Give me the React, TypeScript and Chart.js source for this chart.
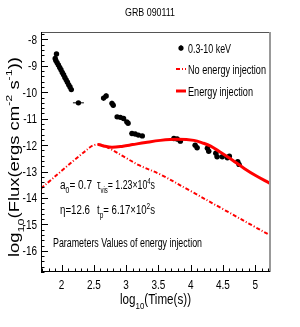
import React, { useEffect, useRef } from "react";
import { Chart, registerables } from "chart.js";
Chart.register(...registerables);

const title = "GRB 090111";
const xMin = 1.68, xMax = 5.23, yMin = -16.8, yMax = -7.72;
const xTickLabels = ["2", "2.5", "3", "3.5", "4", "4.5", "5"];
const yTickLabels = ["-8", "-9", "-10", "-11", "-12", "-13", "-14", "-15", "-16"];

// 0.3-10 keV data
const obsX = [1.92, 1.90, 1.91, 1.93, 1.95, 1.97, 1.99, 2.01, 2.03, 2.05, 2.07, 2.09, 2.11, 2.13, 2.15,
  2.26,
  2.65, 2.69, 2.78, 2.80, 2.86, 2.91, 2.96, 3.01, 3.03,
  3.09, 3.14, 3.19, 3.25,
  3.74, 3.79, 3.84, 4.07, 4.10, 4.26, 4.28, 4.39, 4.41, 4.49, 4.57, 4.60, 4.73, 4.75];
const obsY = [-8.55, -8.72, -8.8, -8.88, -8.97, -9.06, -9.15, -9.25, -9.34, -9.44, -9.53, -9.62, -9.72, -9.8, -9.9,
  -10.4,
  -10.22, -10.14, -10.42, -10.49, -10.93, -10.95, -10.99, -11.12, -11.17,
  -11.56, -11.58, -11.62, -11.65,
  -11.75, -11.77, -11.85, -12.0, -12.1, -12.12, -12.23, -12.31, -12.44, -12.44, -12.48, -12.42, -12.63, -12.73];
const obsXErr = [0.01, 0.01, 0.01, 0.01, 0.01, 0.01, 0.01, 0.01, 0.01, 0.01, 0.01, 0.01, 0.01, 0.01, 0.01,
  0.085,
  0.02, 0.02, 0.02, 0.02, 0.03, 0.03, 0.03, 0.03, 0.03,
  0.04, 0.04, 0.04, 0.04,
  0.04, 0.04, 0.04, 0.04, 0.04, 0.04, 0.04, 0.04, 0.04, 0.04, 0.04, 0.04, 0.04, 0.04];
const obsYErr = [0.06, 0.06, 0.06, 0.06, 0.06, 0.06, 0.06, 0.06, 0.06, 0.06, 0.06, 0.06, 0.06, 0.06, 0.06,
  0.05,
  0.1, 0.1, 0.1, 0.1, 0.06, 0.06, 0.06, 0.06, 0.06,
  0.06, 0.06, 0.06, 0.06,
  0.08, 0.08, 0.08, 0.08, 0.08, 0.08, 0.08, 0.08, 0.08, 0.08, 0.08, 0.08, 0.08, 0.08];

// No energy injection model
const noInjX = [1.68, 1.8, 2.0, 2.2, 2.3, 2.38, 2.44, 2.5, 2.56, 2.62, 2.7, 2.8, 3.0, 3.2, 3.53, 4.0, 4.5, 5.0, 5.23];
const noInjY = [-13.64, -13.39, -12.97, -12.56, -12.36, -12.2, -12.08, -12.0, -11.97, -11.99, -12.07, -12.2, -12.49, -12.76, -13.11, -13.74, -14.42, -15.1, -15.41];

// Energy injection model
const injX = [2.56, 2.65, 2.78, 2.95, 3.1, 3.3, 3.53, 3.8, 4.05, 4.2, 4.31, 4.45, 4.57, 4.7, 4.83, 5.0, 5.23];
const injY = [-11.97, -12.03, -12.08, -12.04, -11.98, -11.9, -11.82, -11.78, -11.82, -11.93, -12.04, -12.25, -12.44, -12.66, -12.88, -13.14, -13.45];

const legendLabels = ["0.3-10 keV", "No energy injection", "Energy injection"];
const paramTitle = "Parameters Values of energy injection";

const FONT = "'Liberation Sans', Arial, sans-serif";
const SX = 0.8;

type Seg = { t: string; sub?: boolean; sup?: boolean };

function segWidth(ctx: CanvasRenderingContext2D, segs: Seg[], size: number) {
  let w = 0;
  for (const s of segs) {
    const fs = s.sub || s.sup ? size * 0.68 : size;
    ctx.font = `${fs}px ${FONT}`;
    w += ctx.measureText(s.t).width;
  }
  return w;
}

function drawRich(ctx: CanvasRenderingContext2D, segs: Seg[], x: number, y: number, size: number, sx: number) {
  ctx.save();
  ctx.translate(x, y);
  ctx.scale(sx, 1);
  ctx.textBaseline = "alphabetic";
  ctx.textAlign = "left";
  let cx = 0;
  for (const s of segs) {
    const fs = s.sub || s.sup ? size * 0.68 : size;
    ctx.font = `${fs}px ${FONT}`;
    const dy = s.sub ? size * 0.35 : s.sup ? -size * 0.45 : 0;
    ctx.fillText(s.t, cx, dy);
    cx += ctx.measureText(s.t).width;
  }
  ctx.restore();
}

function drawRichFit(ctx: CanvasRenderingContext2D, segs: Seg[], x: number, y: number, size: number, width: number) {
  const w = segWidth(ctx, segs, size);
  drawRich(ctx, segs, x, y, size, width / w);
}

const overlay = {
  id: "overlay",
  beforeDatasetsDraw(chart: any) {
    const ctx: CanvasRenderingContext2D = chart.ctx;
    const xs = chart.scales.x, ys = chart.scales.y;
    ctx.save();
    ctx.strokeStyle = "#000";
    ctx.lineWidth = 1;
    for (let i = 0; i < obsX.length; i++) {
      const px = xs.getPixelForValue(obsX[i]);
      const py = ys.getPixelForValue(obsY[i]);
      const x0 = xs.getPixelForValue(obsX[i] - obsXErr[i]);
      const x1 = xs.getPixelForValue(obsX[i] + obsXErr[i]);
      const y0 = ys.getPixelForValue(obsY[i] - obsYErr[i]);
      const y1 = ys.getPixelForValue(obsY[i] + obsYErr[i]);
      ctx.beginPath();
      ctx.moveTo(x0, py); ctx.lineTo(x1, py);
      ctx.moveTo(px, y0); ctx.lineTo(px, y1);
      ctx.stroke();
    }
    ctx.restore();
  },
  afterDraw(chart: any) {
    const ctx: CanvasRenderingContext2D = chart.ctx;
    const a = chart.chartArea;
    const xs = chart.scales.x, ys = chart.scales.y;
    ctx.save();
    ctx.strokeStyle = "#555";
    ctx.lineWidth = 1;
    ctx.beginPath();
    ctx.moveTo(a.left, a.top + 0.5); ctx.lineTo(a.right, a.top + 0.5);
    ctx.stroke();
    ctx.strokeStyle = "#999";
    ctx.lineWidth = 2;
    ctx.beginPath();
    ctx.moveTo(a.right, a.top); ctx.lineTo(a.right, a.bottom);
    ctx.stroke();
    ctx.strokeStyle = "#000";
    ctx.lineWidth = 1;
    ctx.beginPath();
    ctx.moveTo(a.left + 0.5, a.top); ctx.lineTo(a.left + 0.5, a.bottom);
    ctx.moveTo(a.left, a.bottom - 0.5); ctx.lineTo(a.right, a.bottom - 0.5);
    ctx.stroke();
    ctx.beginPath();
    for (let k = Math.ceil(xMin * 10); k <= Math.floor(xMax * 10); k++) {
      const v = k / 10;
      const px = Math.round(xs.getPixelForValue(v)) + 0.5;
      const major = k % 5 === 0;
      ctx.moveTo(px, a.bottom);
      ctx.lineTo(px, a.bottom - (major ? 7 : 3.5));
    }
    for (let k = Math.ceil(yMin * 5); k <= Math.floor(yMax * 5); k++) {
      const v = k / 5;
      const py = Math.round(ys.getPixelForValue(v)) + 0.5;
      const major = k % 5 === 0;
      ctx.moveTo(a.left, py);
      ctx.lineTo(a.left + (major ? 7 : 3.5), py);
    }
    ctx.stroke();
    ctx.fillStyle = "#000";
    for (const lab of xTickLabels) {
      const px = xs.getPixelForValue(parseFloat(lab));
      const w = segWidth(ctx, [{ t: lab }], 12.5) * SX;
      drawRich(ctx, [{ t: lab }], px - w / 2, 289, 12.5, SX);
    }
    for (const lab of yTickLabels) {
      const py = ys.getPixelForValue(parseFloat(lab));
      const w = segWidth(ctx, [{ t: lab }], 12.5) * SX;
      drawRich(ctx, [{ t: lab }], 37 - w, py + 4.5, 12.5, SX);
    }
    drawRichFit(ctx, [{ t: title }], 125, 16, 11.5, 50);
    {
      const segs: Seg[] = [{ t: "log" }, { t: "10", sub: true }, { t: "(Time(s))" }];
      drawRichFit(ctx, segs, 120, 304, 14, 71);
    }
    {
      const segs: Seg[] = [{ t: "log" }, { t: "10", sub: true }, { t: "(Flux(ergs cm" }, { t: "-2", sup: true }, { t: " s" }, { t: "-1", sup: true }, { t: "))" }];
      ctx.save();
      ctx.translate(19, 257);
      ctx.rotate(-Math.PI / 2);
      drawRichFit(ctx, segs, 0, 0, 14.5, 200);
      ctx.restore();
    }
    ctx.fillStyle = "#000";
    ctx.beginPath(); ctx.arc(181, 48, 2.6, 0, Math.PI * 2); ctx.fill();
    ctx.beginPath(); ctx.moveTo(181, 45); ctx.lineTo(181, 51); ctx.stroke();
    drawRichFit(ctx, [{ t: legendLabels[0] }], 188, 52.5, 12, 43);
    ctx.strokeStyle = "#ff0000";
    ctx.lineWidth = 2;
    ctx.setLineDash([4, 2, 1, 2]);
    ctx.beginPath(); ctx.moveTo(176, 69); ctx.lineTo(186, 69); ctx.stroke();
    ctx.setLineDash([]);
    ctx.lineWidth = 3;
    ctx.beginPath(); ctx.moveTo(176, 91); ctx.lineTo(186, 91); ctx.stroke();
    ctx.fillStyle = "#000";
    drawRichFit(ctx, [{ t: legendLabels[1] }], 188, 73.5, 12, 78);
    drawRichFit(ctx, [{ t: legendLabels[2] }], 188, 95.5, 12, 65);
    drawRichFit(ctx, [{ t: "a" }, { t: "0", sub: true }, { t: "= 0.7" }], 60, 189, 12, 32);
    drawRichFit(ctx, [{ t: "\u03c4" }, { t: "vis", sub: true }, { t: "= 1.23\u00d710" }, { t: "4", sup: true }, { t: "s" }], 97, 189, 12, 58);
    drawRichFit(ctx, [{ t: "\u03b7=12.6" }], 60, 214, 12, 30);
    drawRichFit(ctx, [{ t: "t" }, { t: "p", sub: true }, { t: "= 6.17\u00d710" }, { t: "2", sup: true }, { t: "s" }], 97, 214, 12, 58);
    drawRichFit(ctx, [{ t: paramTitle }], 53, 247, 12, 149);
    ctx.restore();
  },
};

export default function App() {
  const ref = useRef<HTMLCanvasElement>(null);
  useEffect(() => {
    const obs = obsX.map((x, i) => ({ x, y: obsY[i] }));
    const noInj = noInjX.map((x, i) => ({ x, y: noInjY[i] }));
    const inj = injX.map((x, i) => ({ x, y: injY[i] }));
    const chart = new Chart(ref.current!, {
      type: "scatter",
      data: {
        datasets: [
          { label: legendLabels[1], data: noInj, showLine: true, borderColor: "#ff0000", borderWidth: 2, borderDash: [4, 2, 1, 2], pointRadius: 0, tension: 0.35, fill: false },
          { label: legendLabels[2], data: inj, showLine: true, borderColor: "#ff0000", borderWidth: 3, pointRadius: 0, tension: 0.35, fill: false },
          { label: legendLabels[0], data: obs, backgroundColor: "#000", borderColor: "#000", pointRadius: 2.7, pointBorderWidth: 0 },
        ],
      },
      options: {
        responsive: false,
        animation: false,
        layout: { padding: { left: 41, right: 30, top: 32, bottom: 55 } },
        scales: {
          x: { type: "linear", min: xMin, max: xMax, display: false },
          y: { type: "linear", min: yMin, max: yMax, display: false },
        },
        plugins: { legend: { display: false }, tooltip: { enabled: false }, title: { display: false } },
      },
      plugins: [overlay],
    });
    return () => chart.destroy();
  }, []);
  return (
    <div style={{ position: "fixed", left: 0, top: 0, width: 300, height: 327, background: "#fff" }}>
      <canvas ref={ref} width={300} height={327} style={{ width: 300, height: 327 }} />
    </div>
  );
}
